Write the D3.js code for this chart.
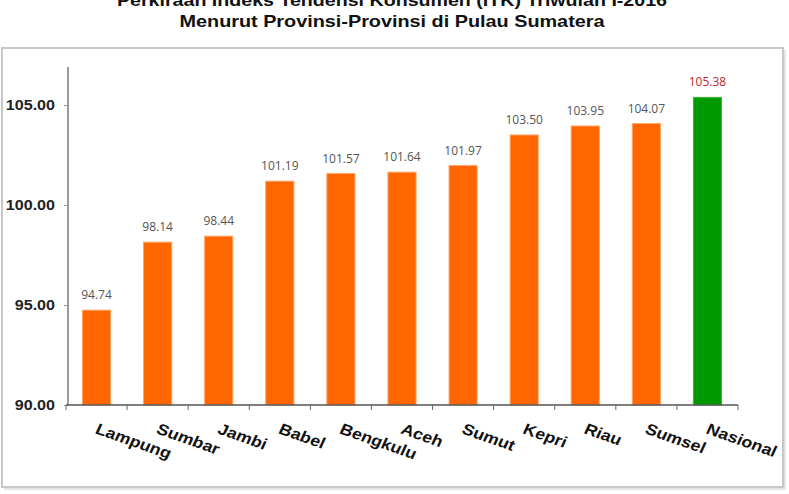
<!DOCTYPE html>
<html><head><meta charset="utf-8">
<script src="https://cdn.jsdelivr.net/npm/d3@7"></script>
<style>body{margin:0;background:#fff;}svg{display:block;}</style>
</head><body>
<svg id="c" width="789" height="494"></svg>
<script>
const categories = ["Lampung","Sumbar","Jambi","Babel","Bengkulu","Aceh","Sumut","Kepri","Riau","Sumsel","Nasional"];
const values = [94.74, 98.14, 98.44, 101.19, 101.57, 101.64, 101.97, 103.50, 103.95, 104.07, 105.38];
const yTicks = [90, 95, 100, 105];
const titleLines = ["Perkiraan Indeks Tendensi Konsumen (ITK) Triwulan I-2016", "Menurut Provinsi-Provinsi di Pulau Sumatera"];

const svg = d3.select("#c");
const FONT = "Liberation Sans, Arial, sans-serif";

// frame
svg.append("rect").attr("x",2).attr("y",48).attr("width",781).attr("height",439)
  .attr("fill","#fff").attr("stroke","#c8c8c8").attr("stroke-width",2);
svg.append("line").attr("x1",785).attr("x2",785).attr("y1",50).attr("y2",489).attr("stroke","#e4e4e4").attr("stroke-width",2);
svg.append("line").attr("x1",4).attr("x2",785).attr("y1",489).attr("y2",489).attr("stroke","#e4e4e4").attr("stroke-width",2);

// titles (first line is partly cut by the top edge, as in the reference)
const titleY = [6, 27];
const titleW = [550, 425];
titleLines.forEach((t, i) => {
  svg.append("text").attr("x", 392).attr("y", titleY[i]).attr("text-anchor","middle")
    .attr("font-family",FONT).attr("font-weight","bold").attr("font-size",17).attr("fill","#111")
    .attr("textLength", titleW[i]).attr("lengthAdjust","spacingAndGlyphs").text(t);
});

const x = d3.scaleBand().domain(categories).range([66, 738]).paddingInner(0.54).paddingOuter(0.27);
const y = d3.scaleLinear().domain([90, 107]).range([405, 65]);

// y axis
const ya = svg.append("g").attr("transform","translate(68,0)")
  .call(d3.axisLeft(y).tickValues(yTicks).tickSize(4).tickFormat(d3.format(".2f")));
ya.select(".domain").attr("stroke","#9a9a9a").attr("stroke-width",2).attr("d","M0,405V67");
ya.selectAll(".tick line").attr("stroke","#999");
ya.selectAll(".tick text").attr("font-family",FONT).attr("font-weight","bold")
  .attr("font-size",14).attr("fill","#222").attr("x",-11.3).attr("dy","0.35em")
  .attr("transform","scale(1.15,1)");

// bars
svg.append("g").selectAll("rect").data(categories).join("rect")
  .attr("x", d => x(d)).attr("width", x.bandwidth())
  .attr("y", (d,i) => y(values[i])).attr("height", (d,i) => y(90) - y(values[i]))
  .attr("fill", d => d === "Nasional" ? "#009a00" : "#ff6600")
  .attr("stroke", d => d === "Nasional" ? "#3cb43c" : "#ffa060").attr("stroke-width",1);

// value labels
svg.append("g").selectAll("text").data(categories).join("text")
  .attr("x", d => x(d) + x.bandwidth()/2).attr("y", (d,i) => y(values[i]) - 11)
  .attr("text-anchor","middle").attr("font-family","Open Sans, Liberation Sans, Arial").attr("font-size",12)
  .attr("fill", d => d === "Nasional" ? "#c0272d" : "#555")
  .text((d,i) => values[i].toFixed(2));

// x axis
const xa = svg.append("g").attr("transform","translate(0,405)");
xa.append("line").attr("x1",66).attr("x2",738).attr("y1",0).attr("y2",0).attr("stroke","#555").attr("stroke-width",1.5);
const bounds = d3.range(categories.length + 1).map(i => 66 + i * (672 / categories.length));
xa.selectAll("line.t").data(bounds).join("line").attr("class","t")
  .attr("x1", d => d).attr("x2", d => d).attr("y1",0).attr("y2",5).attr("stroke","#666");
xa.selectAll("text").data(categories).join("text")
  .attr("transform", d => `translate(${x(d) + x.bandwidth()/2},${23}) scale(1.15,1) rotate(22)`)
  .attr("font-family",FONT).attr("font-weight","bold").attr("font-size",15.5)
  .attr("fill","#111").attr("dy","0.35em").text(d => d);
</script>
</body></html>
